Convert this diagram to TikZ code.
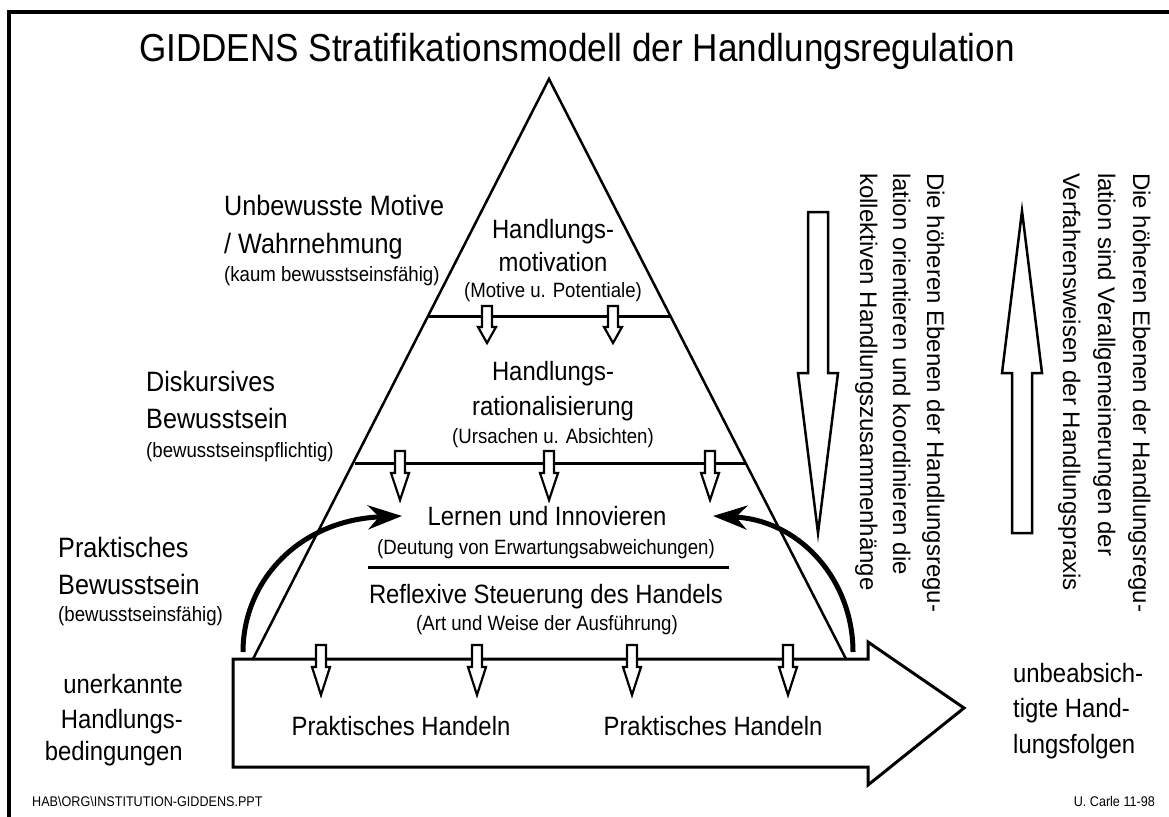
\documentclass[tikz,border=0pt]{standalone}
\usepackage{fontspec}
\setmainfont{Liberation Sans}[FakeStretch=0.9]
\newfontfamily\vertfont{Liberation Sans}
\usetikzlibrary{arrows.meta}

\tikzset{
  lbl/.style={inner sep=0pt, anchor=base, font=\fontsize{26.5}{30}\selectfont},
  side/.style={inner sep=0pt, anchor=base west, font=\fontsize{28}{32}\selectfont},
  note/.style={inner sep=0pt, anchor=base, font=\fontsize{20.7}{24}\selectfont},
  vert/.style={inner sep=0pt, rotate=-90, anchor=base west, font=\vertfont\fontsize{24}{28}\selectfont},
  foot/.style={inner sep=0pt, font=\fontsize{14}{16}\selectfont},
  hollow/.style={draw, fill=white, line width=2.5pt},
  curvearrow/.style={line width=5pt, -{Stealth[length=34pt, width=24pt, inset=11pt]}},
}
\newcommand{\smallarrow}[4]{%
  \draw[hollow, line width=2.2pt] (#1-5,#2) -- (#1+5,#2) -- (#1+5,#3) -- (#1+9,#3)
    -- (#1,#4) -- (#1-9,#3) -- (#1-5,#3) -- cycle;}

\begin{document}
\begin{tikzpicture}[x=1pt, y=-1pt]
    \useasboundingbox (0,0) rectangle (1169,816);
    \clip (0,0) rectangle (1169,816);
    \draw[line width=3.5pt] (9,840) -- (9,12) -- (1190,12);

    \node[anchor=base, inner sep=0pt, font=\fontsize{39}{44}\selectfont] (title) at (577,62)
        {GIDDENS Stratifikationsmodell der Handlungsregulation};

    \draw[hollow, line width=3pt] (233,659) -- (868,659) -- (868,642) -- (964,708)
        -- (868,785) -- (868,767) -- (233,767) -- cycle;

    \coordinate (P0) at (549,79);
    \coordinate (P1) at (253,659);
    \coordinate (P2) at (846,659);
    \draw[line width=2.5pt] (P1) -- (P0) -- (P2);
    \draw[line width=3pt] (428,316) -- (670,316);
    \draw[line width=3pt] (355,463) -- (745,463);
    \draw[line width=3pt] (368,567) -- (729,567);

    \foreach \x in {487,613} {\smallarrow{\x}{306}{327}{343}}
    \foreach \x in {400,549,710} {\smallarrow{\x}{451}{473}{500}}
    \foreach \x in {321,477,632,788} {\smallarrow{\x}{645}{667}{695}}

    \draw[hollow] (808,212) -- (828,212) -- (828,373) -- (838,373) -- (818,533)
        -- (798,373) -- (808,373) -- cycle;
    \draw[hollow] (1012,533) -- (1032,533) -- (1032,373) -- (1042,373) -- (1022,211)
        -- (1002,373) -- (1012,373) -- cycle;

    \node[side] (U1) at (224,215) {Unbewusste Motive};
    \node[side] (U2) at (224,253) {/ Wahrnehmung};
    \node[note, anchor=base west] (U3) at (224,281) {(kaum bewusstseinsfähig)};
    \node[side] (D1) at (146,391) {Diskursives};
    \node[side] (D2) at (146,428) {Bewusstsein};
    \node[note, anchor=base west] (D3) at (146,457) {(bewusstseinspflichtig)};
    \node[side] (B1) at (58,557) {Praktisches};
    \node[side] (B2) at (58,594) {Bewusstsein};
    \node[note, anchor=base west] (B3) at (58,621) {(bewusstseinsfähig)};
    \node[lbl, anchor=base east] (C1) at (183,693) {unerkannte};
    \node[lbl, anchor=base east] (C2) at (183,728) {Handlungs-};
    \node[lbl, anchor=base east] (C3) at (183,760) {bedingungen};
    \node[lbl, anchor=base west] (F1) at (1013,682) {unbeabsich-};
    \node[lbl, anchor=base west] (F2) at (1013,717) {tigte Hand-};
    \node[lbl, anchor=base west] (F3) at (1013,753) {lungsfolgen};

    \node[lbl] (M1) at (553,238) {Handlungs-};
    \node[lbl] (M2) at (553,271) {motivation};
    \node[note] (M3) at (553,297) {(Motive u. Potentiale)};
    \node[lbl] (R1) at (553,380) {Handlungs-};
    \node[lbl] (R2) at (553,415) {rationalisierung};
    \node[note] (R3) at (553,443) {(Ursachen u. Absichten)};
    \node[lbl] (L1) at (547,525) {Lernen und Innovieren};
    \node[note] (L2) at (546,554) {(Deutung von Erwartungsabweichungen)};
    \node[lbl] (S1) at (546,603) {Reflexive Steuerung des Handels};
    \node[note] (S2) at (547,630) {(Art und Weise der Ausführung)};
    \node[lbl] (H1) at (401,735) {Praktisches Handeln};
    \node[lbl] (H2) at (713,735) {Praktisches Handeln};

    \node[vert] (V1) at (927,173) {Die höheren Ebenen der Handlungsregu-};
    \node[vert] (V2) at (893,173) {lation orientieren und koordinieren die};
    \node[vert] (V3) at (860,173) {kollektiven Handlungszusammenhänge};
    \node[vert] (W1) at (1133,173) {Die höheren Ebenen der Handlungsregu-};
    \node[vert] (W2) at (1098,173) {lation sind Verallgemeinerungen der};
    \node[vert] (W3) at (1063,173) {Verfahrensweisen der Handlungspraxis};

    \node[foot, anchor=base west] (file) at (32,806) {HAB\textbackslash ORG\textbackslash INSTITUTION-GIDDENS.PPT};
    \node[foot, anchor=base east] (sign) at (1155,806) {U. Carle 11-98};

    \coordinate (A1) at (243,652);
    \coordinate (A2) at (402,516);
    \coordinate (A3) at (853,652);
    \coordinate (A4) at (713,516);
    \draw[curvearrow] (A1) .. controls +(0,-72) and +(-102,4) .. (A2);
    \draw[curvearrow] (A3) .. controls +(0,-72) and +(87,4) .. (A4);
\end{tikzpicture}
\end{document}
